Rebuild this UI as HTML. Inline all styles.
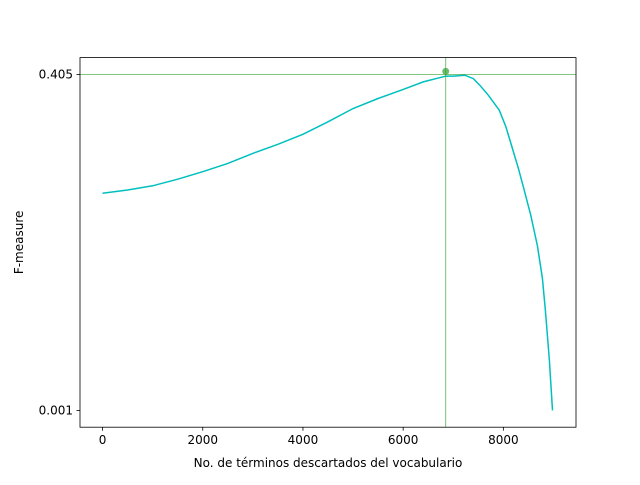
<!DOCTYPE html>
<html><head><meta charset="utf-8"><style>
body{margin:0;background:#fff;font-family:"Liberation Sans","DejaVu Sans",sans-serif;}
svg text{font-family:"DejaVu Sans","Liberation Sans",sans-serif;font-size:12px;fill:#000}
</style></head><body>
<svg id="chart" width="640" height="480" viewBox="0 0 640 480">
<rect width="640" height="480" fill="#fff"/>
<g id="plot"></g>
</svg>
<script>
const xs=[0,500,1000,1500,2000,2500,3000,3500,4000,4500,5000,5500,6000,6400,6730,6850,7000,7230,7400,7530,7700,7920,8050,8180,8300,8420,8550,8680,8780,8840,8920,8980];
const ys=[0.262,0.266,0.271,0.279,0.288,0.298,0.310,0.321,0.333,0.348,0.364,0.376,0.387,0.396,0.401,0.403,0.403,0.404,0.400,0.392,0.380,0.362,0.342,0.316,0.292,0.265,0.235,0.199,0.160,0.121,0.061,0.001];
const bestX=6850, bestY=0.405;
const xTicks=[0,2000,4000,6000,8000];
const yTicks=[0.001,0.405];
const L=80,R=576,T=57.6,B=427.2,xmin=-450,xmax=9450,ymin=-0.0192,ymax=0.4252;
const sx=v=>L+(v-xmin)/(xmax-xmin)*(R-L);
const sy=v=>B-(v-ymin)/(ymax-ymin)*(B-T);
const g=document.getElementById('plot');
const NS='http://www.w3.org/2000/svg';
function el(t,a,txt){const e=document.createElementNS(NS,t);for(const k in a)e.setAttribute(k,a[k]);if(txt!==undefined)e.textContent=txt;g.appendChild(e);return e;}
let d=xs.map((x,i)=>(i?'L':'M')+sx(x).toFixed(1)+' '+sy(ys[i]).toFixed(1)).join(' ');
const line=el('path',{d:d,fill:'none',stroke:'#00bfbf','stroke-width':1.5});


const vl=el('line',{x1:sx(bestX),x2:sx(bestX),y1:T,y2:B,stroke:'#2ca02c','stroke-opacity':0.8,'stroke-width':0.8});


const hl=el('line',{x1:L,x2:R,y1:sy(bestY),y2:sy(bestY),stroke:'#2ca02c','stroke-opacity':0.8,'stroke-width':0.8});


const mk=el('circle',{cx:sx(bestX),cy:sy(bestY)-3,r:3.5,fill:'#2ca02c','fill-opacity':0.7});


const fr=el('rect',{x:L,y:T,width:R-L,height:B-T,fill:'none',stroke:'#000','stroke-width':0.8});


xTicks.forEach(v=>{const x=sx(v);el('line',{x1:x,x2:x,y1:B,y2:B+3.5,stroke:'#000','stroke-width':0.8});
const t=el('text',{x:x,y:B+17,'text-anchor':'middle'},v);

});
yTicks.forEach(v=>{const y=sy(v);el('line',{x1:L,x2:L-3.5,y1:y,y2:y,stroke:'#000','stroke-width':0.8});
const t=el('text',{x:L-7,y:y+4,'text-anchor':'end'},v.toFixed(3));

});
const xt=el('text',{x:(L+R)/2,y:467,'text-anchor':'middle'},'No. de términos descartados del vocabulario');


const yt=el('text',{x:23,y:(T+B)/2,'text-anchor':'middle',transform:'rotate(-90 23 '+((T+B)/2)+')'},'F-measure');


</script>
</body></html>
